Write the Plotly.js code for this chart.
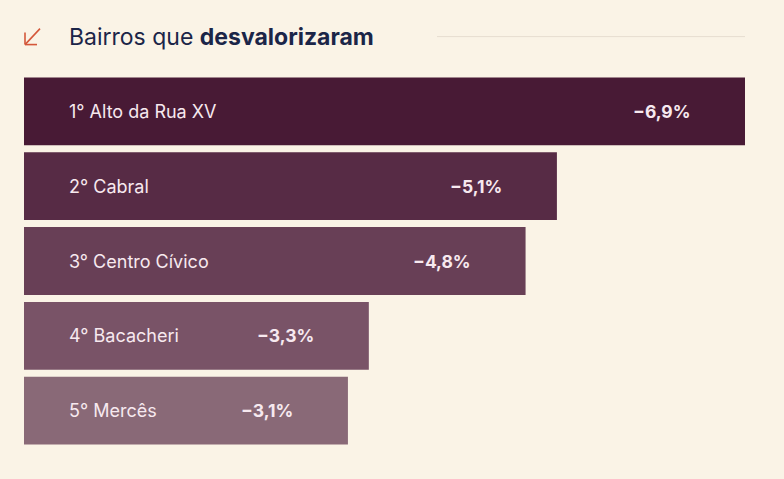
<!DOCTYPE html>
<html><head><meta charset="utf-8">
<script src="https://cdn.plot.ly/plotly-3.0.1.min.js"></script>
<style>html,body{margin:0;padding:0;background:#faf3e6;}#chart{width:784px;height:479px;}</style>
</head><body><div id="chart"></div>
<script>
var categories = ["1° Alto da Rua XV", "2° Cabral", "3° Centro Cívico", "4° Bacacheri", "5° Mercês"];
var values = [6.9, 5.1, 4.8, 3.3, 3.1];
var valueLabels = ["−6,9%", "−5,1%", "−4,8%", "−3,3%", "−3,1%"];
var barColors = ["#481a35", "#572b45", "#683f56", "#795367", "#896977"];

var W = 784, H = 479;
var L = 24, R = 745, T = 73.5, B = 448.5;
function px(x){ return (x - L) / (R - L); }
function py(y){ return (B - y) / (B - T); }

var trace = {
  type: "bar", orientation: "h",
  y: categories, x: values,
  marker: {color: barColors, line: {width: 0}},
  hoverinfo: "none"
};

var annotations = [];
categories.forEach(function(c, i){
  annotations.push({x: 0, y: c, xref: "x", yref: "y", text: c, showarrow: false,
    xanchor: "left", xshift: 43, font: {family: "Inter, sans-serif", size: 18, color: "#f7e9ef"}});
  annotations.push({x: values[i], y: c, xref: "x", yref: "y", text: "<b>" + valueLabels[i] + "</b>", showarrow: false,
    xanchor: "right", xshift: -53, font: {family: "Inter, sans-serif", size: 17.5, color: "#f7e9ef"}});
});
annotations.push({x: px(67), y: py(36), xref: "paper", yref: "paper", xanchor: "left", yanchor: "middle",
  text: "Bairros que <b>desvalorizaram</b>", showarrow: false,
  font: {family: "Inter, sans-serif", size: 23, color: "#1b2548"}});

var ac = "#d4573a";
var shapes = [
  {type: "line", xref: "paper", yref: "paper", x0: px(40), y0: py(28), x1: px(25), y1: py(44), line: {color: ac, width: 1.6}},
  {type: "line", xref: "paper", yref: "paper", x0: px(25), y0: py(44), x1: px(37), y1: py(44), line: {color: ac, width: 1.6}},
  {type: "line", xref: "paper", yref: "paper", x0: px(25), y0: py(44), x1: px(25), y1: py(32), line: {color: ac, width: 1.6}},
  {type: "line", xref: "paper", yref: "paper", x0: px(437), y0: py(36), x1: px(745), y1: py(36), line: {color: "#e6ddd0", width: 1}}
];

var layout = {
  width: W, height: H,
  paper_bgcolor: "#faf3e6", plot_bgcolor: "#faf3e6",
  margin: {l: L, r: W - R, t: T, b: H - B, pad: 0},
  showlegend: false,
  bargap: 0.093,
  xaxis: {range: [0, 6.9], visible: false, fixedrange: true},
  yaxis: {autorange: "reversed", visible: false, fixedrange: true},
  annotations: annotations,
  shapes: shapes
};
Plotly.newPlot("chart", [trace], layout, {displayModeBar: false, staticPlot: true});
</script></body></html>
